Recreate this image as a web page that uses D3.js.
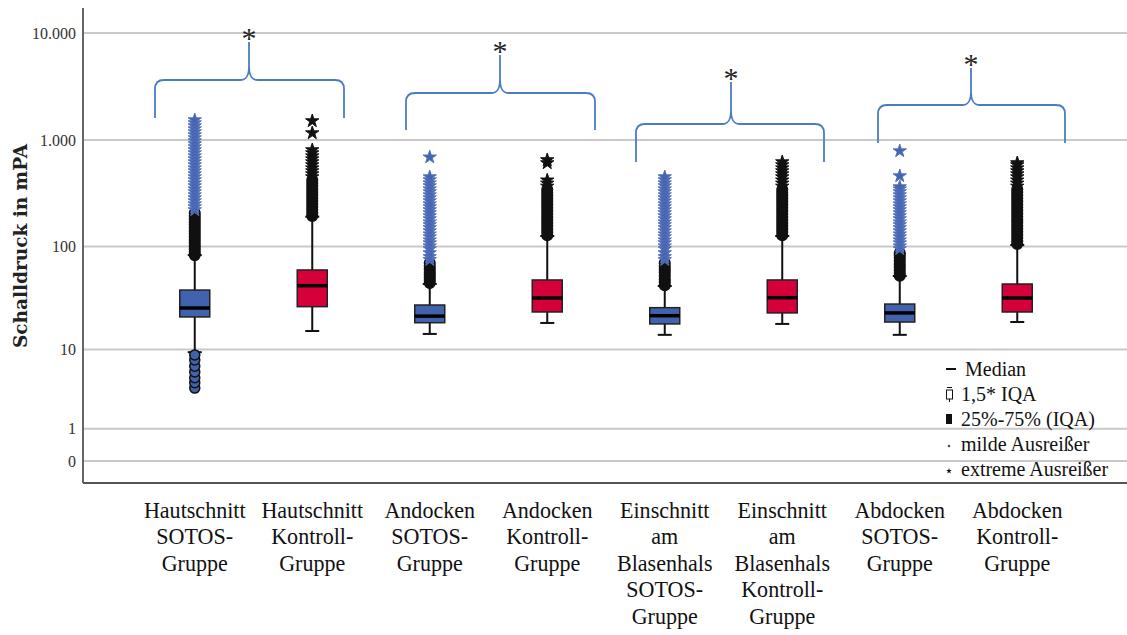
<!DOCTYPE html>
<html>
<head>
<meta charset="utf-8">
<script src="https://cdn.jsdelivr.net/npm/d3@7"></script>
<style>
  body { margin: 0; background: #fff; }
  svg { display: block; }
</style>
</head>
<body>
<div id="chart"></div>
<script>
// groups (x axis), one entry per text line
var groupLabels = [
    ["Hautschnitt", "SOTOS-", "Gruppe"],
    ["Hautschnitt", "Kontroll-", "Gruppe"],
    ["Andocken", "SOTOS-", "Gruppe"],
    ["Andocken", "Kontroll-", "Gruppe"],
    ["Einschnitt", "am", "Blasenhals", "SOTOS-", "Gruppe"],
    ["Einschnitt", "am", "Blasenhals", "Kontroll-", "Gruppe"],
    ["Abdocken", "SOTOS-", "Gruppe"],
    ["Abdocken", "Kontroll-", "Gruppe"]
]
var groupType = ["SOTOS", "Kontroll", "SOTOS", "Kontroll", "SOTOS", "Kontroll", "SOTOS", "Kontroll"]

// box plot statistics, Schalldruck in mPA
var lowerWhisker = [9.4, 15.4, 14.4, 18.5, 14.1, 18.1, 14.1, 18.9]
var q1 = [21.2, 26.7, 18.6, 23.7, 18.1, 23.2, 18.9, 23.7]
var median = [25.9, 42.5, 21.6, 32.4, 21.8, 32.6, 23.2, 32.4]
var q3 = [38.6, 60, 27.7, 48.2, 26.1, 48.2, 28.3, 44.1]
var upperWhisker = [83, 191, 44.1, 125.7, 42.2, 125.7, 52.6, 103.4]

// milde Ausreisser (circles) above the whisker
var mildHigh = [
    [83, 89, 95, 101, 108, 115, 123, 131, 140, 150, 160, 170, 182, 194, 207],
    [194, 207, 221, 236, 251, 268, 286, 305, 326, 347, 371, 395, 422],
    [45, 48, 51, 54, 57, 61, 65, 70],
    [128, 137, 146, 156, 167, 178, 190, 203, 217, 232, 248, 265, 283, 302, 322, 344],
    [43, 46, 49, 53, 57, 61, 65, 70],
    [128, 137, 146, 156, 167, 178, 190, 203, 217, 232, 248, 265, 283, 302, 322, 344],
    [53, 56, 60, 64, 68, 73, 78, 83, 87],
    [106, 113, 121, 129, 138, 147, 157, 168, 179, 191, 204, 218, 233, 249, 266, 284, 303, 323, 345]
]
// milde Ausreisser below the whisker
var mildLow = [
    [8.8, 7.8, 6.7, 5.8, 5.0, 4.4, 3.8],
    [], [], [], [], [], [], []
]
// extreme Ausreisser (stars)
var extremeHigh = [
    [221, 236, 251, 268, 286, 305, 326, 347, 371, 395, 422, 450, 480, 512, 546, 583, 622, 663, 707, 755, 806, 859, 917, 978, 1043, 1113, 1187, 1266, 1351, 1441, 1537],
    [450, 480, 512, 546, 583, 622, 663, 707, 755, 806, 1161, 1505],
    [75, 80, 87, 95, 101, 108, 115, 123, 131, 140, 150, 160, 170, 182, 194, 207, 221, 236, 251, 268, 286, 305, 326, 347, 371, 395, 422, 450, 690],
    [368, 393, 420, 609, 650],
    [75, 80, 87, 95, 101, 108, 115, 123, 131, 140, 150, 160, 170, 182, 194, 207, 221, 236, 251, 268, 286, 305, 326, 347, 371, 395, 422, 450],
    [368, 393, 420, 450, 480, 512, 546, 583, 622],
    [95, 101, 108, 115, 123, 131, 140, 150, 160, 170, 182, 194, 207, 221, 236, 251, 268, 286, 305, 326, 347, 363, 460, 788],
    [368, 393, 420, 450, 480, 512, 546, 583, 609]
]

var yTicks = [0, 1, 10, 100, 1000, 10000]
var yTitle = "Schalldruck in mPA"
var legendItems = ["Median", "1,5* IQA", "25%-75% (IQA)", "milde Ausreißer", "extreme Ausreißer"]
var significance = ["*", "*", "*", "*"]

var width = 1127,
    height = 635;

var colors = { SOTOS: "#4262ad", Kontroll: "#d5003a" };
var starFill = { SOTOS: "#4463b0", Kontroll: "#111" };
var starStroke = { SOTOS: "#5673bb", Kontroll: "#111" };

var svg = d3.select("#chart")
    .append("svg")
    .attr("width", width)
    .attr("height", height);

// SPSS log axis: log10(x + 1)
var y = d3.scaleSymlog().constant(1).domain([0, 10000]).range([461, 33]);
var x = d3.scaleBand().domain(d3.range(groupLabels.length)).range([136, 1076]);
var cx = i => x(i) + x.bandwidth() / 2;

var plotLeft = 83,
    plotTop = 8,
    plotBottom = 483;

var de = d3.formatLocale({ decimal: ",", thousands: ".", grouping: [3], currency: ["", "€"] });
var fmt = de.format(",d");

// grid lines
svg.append("g")
    .selectAll("line")
    .data(yTicks)
    .join("line")
    .attr("x1", plotLeft)
    .attr("x2", width)
    .attr("y1", d => y(d))
    .attr("y2", d => y(d))
    .attr("stroke", "#c9c9c9")
    .attr("stroke-width", 2);

// y axis
var yAxis = d3.axisLeft(y).tickValues(yTicks).tickFormat(fmt).tickSize(0).tickPadding(7);
svg.append("g")
    .attr("transform", `translate(${plotLeft},0)`)
    .call(yAxis)
    .call(g => g.select(".domain").remove())
    .call(g => g.selectAll("text")
        .attr("font-family", "Liberation Serif, serif")
        .attr("font-size", 16)
        .attr("fill", "#333"));

svg.append("line")
    .attr("x1", plotLeft).attr("x2", plotLeft)
    .attr("y1", plotTop).attr("y2", plotBottom)
    .attr("stroke", "#666").attr("stroke-width", 2);
svg.append("line")
    .attr("x1", plotLeft).attr("x2", width)
    .attr("y1", plotBottom).attr("y2", plotBottom)
    .attr("stroke", "#555").attr("stroke-width", 2);

svg.append("text")
    .attr("transform", "translate(27,246) rotate(-90)")
    .attr("text-anchor", "middle")
    .attr("font-family", "DejaVu Serif, serif")
    .attr("font-weight", "bold")
    .attr("font-size", 18.5)
    .attr("fill", "#222")
    .text(yTitle);

// x labels
var xl = svg.append("g")
    .selectAll("text")
    .data(groupLabels)
    .join("text")
    .attr("transform", (d, i) => `translate(${cx(i)},518) scale(0.92,1)`)
    .attr("text-anchor", "middle")
    .attr("font-family", "Liberation Serif, serif")
    .attr("font-size", 24)
    .attr("fill", "#111");
xl.selectAll("tspan")
    .data(d => d)
    .join("tspan")
    .attr("x", 0)
    .attr("y", (d, j) => j * 26.5)
    .text(d => d);

var boxW = 30,
    capW = 14;

var boxes = svg.append("g")
    .selectAll("g")
    .data(groupLabels)
    .join("g");

// whiskers
boxes.append("line")
    .attr("x1", (d, i) => cx(i)).attr("x2", (d, i) => cx(i))
    .attr("y1", (d, i) => y(lowerWhisker[i])).attr("y2", (d, i) => y(upperWhisker[i]))
    .attr("stroke", "#111").attr("stroke-width", 2);
boxes.append("line")
    .attr("x1", (d, i) => cx(i) - capW / 2).attr("x2", (d, i) => cx(i) + capW / 2)
    .attr("y1", (d, i) => y(lowerWhisker[i])).attr("y2", (d, i) => y(lowerWhisker[i]))
    .attr("stroke", "#111").attr("stroke-width", 2);
boxes.append("line")
    .attr("x1", (d, i) => cx(i) - capW / 2).attr("x2", (d, i) => cx(i) + capW / 2)
    .attr("y1", (d, i) => y(upperWhisker[i])).attr("y2", (d, i) => y(upperWhisker[i]))
    .attr("stroke", "#111").attr("stroke-width", 2);

// box
boxes.append("rect")
    .attr("x", (d, i) => cx(i) - boxW / 2)
    .attr("width", boxW)
    .attr("y", (d, i) => y(q3[i]))
    .attr("height", (d, i) => y(q1[i]) - y(q3[i]))
    .attr("fill", (d, i) => colors[groupType[i]])
    .attr("stroke", "#222")
    .attr("stroke-width", 1.5);
boxes.append("line")
    .attr("x1", (d, i) => cx(i) - boxW / 2).attr("x2", (d, i) => cx(i) + boxW / 2)
    .attr("y1", (d, i) => y(median[i])).attr("y2", (d, i) => y(median[i]))
    .attr("stroke", "#000").attr("stroke-width", 3.5);

// outliers
var star = d3.symbol().type(d3.symbolStar).size(55);
boxes.each(function(d, i) {
    var g = d3.select(this);
    var lows = mildLow[i].slice().sort((a, b) => a - b);
    g.selectAll("circle.low")
        .data(lows)
        .join("circle")
        .attr("class", "low")
        .attr("cx", cx(i)).attr("cy", v => y(v)).attr("r", 5)
        .attr("fill", colors[groupType[i]])
        .attr("stroke", "#111").attr("stroke-width", 1.5);
    g.selectAll("circle.high")
        .data(mildHigh[i])
        .join("circle")
        .attr("class", "high")
        .attr("cx", cx(i)).attr("cy", v => y(v)).attr("r", 5.3)
        .attr("fill", "#111")
        .attr("stroke", "#111").attr("stroke-width", 1.5);
    g.selectAll("path.star")
        .data(extremeHigh[i])
        .join("path")
        .attr("class", "star")
        .attr("d", star)
        .attr("transform", v => `translate(${cx(i)},${y(v)})`)
        .attr("fill", starFill[groupType[i]])
        .attr("stroke", starStroke[groupType[i]])
        .attr("stroke-width", 1);
});

// significance braces
var braces = [
    { x0: 155, x1: 344, xm: 249, yEnd: 118, yH: 80, yTip: 42 },
    { x0: 406, x1: 595, xm: 500, yEnd: 130, yH: 93, yTip: 55 },
    { x0: 636, x1: 824, xm: 731, yEnd: 162, yH: 124, yTip: 82 },
    { x0: 878, x1: 1065, xm: 971, yEnd: 143, yH: 105, yTip: 68 }
];
var r = 9;
svg.append("g")
    .selectAll("path")
    .data(braces)
    .join("path")
    .attr("d", b => {
        var p = d3.path();
        p.moveTo(b.x0, b.yEnd);
        p.lineTo(b.x0, b.yH + r);
        p.quadraticCurveTo(b.x0, b.yH, b.x0 + r, b.yH);
        p.lineTo(b.xm - 9, b.yH);
        p.bezierCurveTo(b.xm - 2, b.yH, b.xm, b.yH - 5, b.xm, b.yH - 14);
        p.lineTo(b.xm, b.yTip);
        p.moveTo(b.xm, b.yH - 14);
        p.bezierCurveTo(b.xm, b.yH - 5, b.xm + 2, b.yH, b.xm + 9, b.yH);
        p.lineTo(b.x1 - r, b.yH);
        p.quadraticCurveTo(b.x1, b.yH, b.x1, b.yH + r);
        p.lineTo(b.x1, b.yEnd);
        return p.toString();
    })
    .attr("fill", "none")
    .attr("stroke", "#4a7cc4")
    .attr("stroke-width", 1.8);

svg.append("g")
    .selectAll("text")
    .data(braces)
    .join("text")
    .attr("x", b => b.xm)
    .attr("y", b => b.yTip + 6)
    .attr("text-anchor", "middle")
    .attr("font-family", "Liberation Serif, serif")
    .attr("font-size", 30)
    .attr("fill", "#222")
    .text((b, i) => significance[i]);

// legend
var lg = svg.append("g").attr("font-family", "Liberation Serif, serif").attr("font-size", 20).attr("fill", "#111");
var legendBase = [376, 401, 426, 451, 476];
lg.selectAll("text")
    .data(legendItems)
    .join("text")
    .attr("x", (d, i) => i == 0 ? 965 : 961)
    .attr("y", (d, i) => legendBase[i])
    .text(d => d);

lg.append("line").attr("x1", 946).attr("x2", 956).attr("y1", 369).attr("y2", 369)
    .attr("stroke", "#111").attr("stroke-width", 2);
lg.append("rect").attr("x", 946.5).attr("y", 390).attr("width", 6).attr("height", 9)
    .attr("fill", "none").attr("stroke", "#111").attr("stroke-width", 1);
lg.append("line").attr("x1", 947).attr("x2", 952).attr("y1", 387.5).attr("y2", 387.5)
    .attr("stroke", "#111").attr("stroke-width", 1);
lg.append("line").attr("x1", 949.5).attr("x2", 949.5).attr("y1", 399).attr("y2", 402)
    .attr("stroke", "#111").attr("stroke-width", 1);
lg.append("rect").attr("x", 946).attr("y", 414).attr("width", 6).attr("height", 10)
    .attr("fill", "#111");
lg.append("circle").attr("cx", 949).attr("cy", 446).attr("r", 1.3).attr("fill", "#555");
lg.append("path")
    .attr("d", d3.symbol().type(d3.symbolStar).size(10))
    .attr("transform", "translate(949,471)")
    .attr("fill", "#111");
</script>
</body>
</html>
